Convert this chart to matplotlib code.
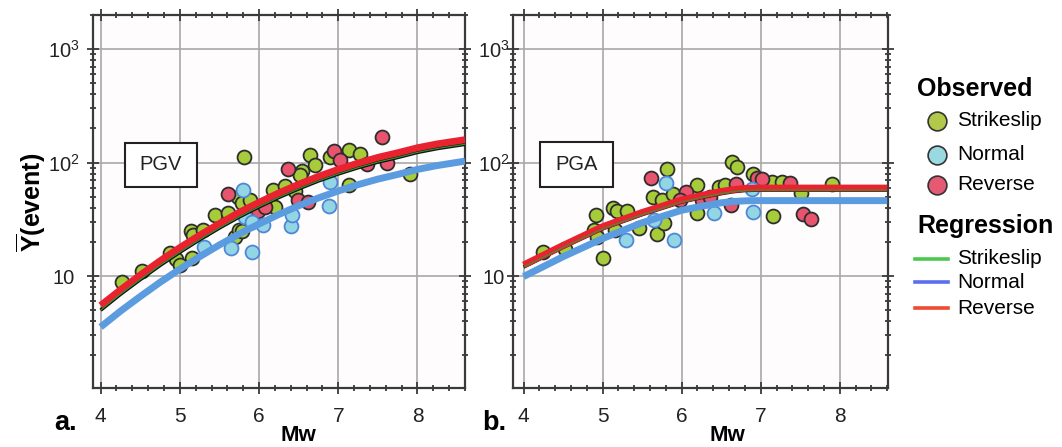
import matplotlib
matplotlib.use("Agg")
import matplotlib.pyplot as plt
from matplotlib.lines import Line2D
from matplotlib.patches import Rectangle
from matplotlib.ticker import FixedLocator, FixedFormatter, LogLocator, MultipleLocator, NullFormatter

plt.rcParams['font.family'] = ['Liberation Sans', 'DejaVu Sans']
plt.rcParams['mathtext.fontset'] = 'custom'
plt.rcParams['mathtext.rm'] = 'Liberation Sans'
plt.rcParams['mathtext.bf'] = 'Liberation Sans:bold'

# ---------------- data ----------------
# PGV observed
pgv_ss_m = [4.27, 4.52, 4.88, 4.95, 5.00, 5.14, 5.17, 5.15, 5.29, 5.44, 5.61, 5.70, 5.75, 5.78, 5.81, 5.74,
            5.79, 5.88, 5.91, 6.18, 6.20, 6.33, 6.45, 6.54, 6.52, 6.64, 6.71, 6.90, 7.14, 7.27, 7.14, 7.91]
pgv_ss_y = [8.9, 11.1, 15.8, 14.0, 12.5, 24.9, 23.0, 14.3, 25.7, 34.4, 35.6, 22.0, 25.7, 25.0, 111, 50,
            43.7, 46.5, 31, 57.6, 40.8, 62, 56, 85, 77, 117, 95, 112, 128, 120, 63, 80]
pgv_no_m = [5.30, 5.65, 5.91, 5.80, 5.82, 5.91, 6.05, 6.40, 6.41, 6.90, 6.88]
pgv_no_y = [18.1, 17.5, 16.3, 57, 33.4, 30, 28, 27.6, 34.5, 67.6, 41.6]
pgv_rv_m = [5.61, 5.99, 6.07, 6.37, 6.49, 6.62, 6.94, 7.02, 7.36, 7.55, 7.62]
pgv_rv_y = [53, 37.5, 41, 87, 47, 45, 126, 106, 98, 168, 100]

# PGV regression
pgv_fit_m = [4.0, 4.25, 4.5, 4.75, 5.0, 5.25, 5.5, 5.75, 6.0, 6.25, 6.5, 6.75, 7.0, 7.25, 7.5, 7.75,
             8.0, 8.25, 8.6]
pgv_fit_ss = [5.0, 6.9, 9.3, 12.4, 16.2, 20.9, 26.5, 33.2, 40.7, 49.3, 58.7, 68.9, 79.4, 90.2, 101, 111,
              123, 133, 145]
pgv_fit_no = [3.55, 4.9, 6.6, 8.8, 11.5, 14.8, 18.8, 23.5, 28.8, 34.9, 41.6, 48.8, 56.2, 63.9, 71.5, 78.6,
              87.1, 94.2, 103]
pgv_fit_rv = [5.5, 7.55, 10.2, 13.6, 17.8, 22.9, 29.0, 36.4, 44.6, 54.0, 64.3, 75.5, 87.0, 98.9, 111, 122,
              135, 146, 159]

# PGA observed
pga_ss_m = [4.25, 4.53, 4.92, 4.89, 4.93, 5.01, 5.13, 5.18, 5.31, 5.16, 5.46, 5.64, 5.75, 5.81, 5.69, 5.78,
            5.89, 6.19, 6.19, 6.47, 6.55, 6.64, 6.70, 6.90, 7.14, 7.16, 7.27, 7.51, 7.90]
pga_ss_y = [16.4, 17.2, 34.7, 25.4, 22.2, 14.3, 40, 37.5, 37.5, 25.4, 26.3, 50, 46.6, 88.5, 23.7, 29.5,
            53, 63, 35.6, 61, 63, 101, 91, 80, 67.6, 33.8, 67.6, 54, 64.5]
pga_no_m = [5.30, 5.80, 5.65, 5.90, 6.41, 6.90, 6.89]
pga_no_y = [20.7, 66, 31, 20.7, 35.6, 36.7, 59]
pga_rv_m = [5.61, 6.06, 5.98, 6.26, 6.36, 6.62, 6.69, 6.95, 7.02, 7.37, 7.54, 7.63]
pga_rv_y = [72.6, 55, 47, 47, 50, 42, 65, 72.6, 71, 66, 35.5, 32]

# PGA regression
pga_fit_m = [4.0, 4.5, 5.0, 5.5, 6.0, 6.25, 6.5, 6.65, 6.8, 6.95, 7.2, 8.6]
pga_fit_ss = [12.0, 17.9, 26.1, 34.8, 44.9, 49.2, 53.3, 55.4, 56.8, 57.2, 57.2, 57.2]
pga_fit_no = [9.9, 14.8, 21.4, 29.5, 38.0, 41.2, 44.2, 45.4, 46.0, 46.2, 46.2, 46.2]
pga_fit_rv = [12.5, 18.6, 27.2, 36.3, 46.8, 51.3, 55.6, 57.8, 59.2, 59.6, 59.6, 59.6]

ytick_vals = [10, 100, 1000]
ytick_labels = ['10', r'$\mathregular{10^{2}}$', r'$\mathregular{10^{3}}$']
xtick_vals = [4, 5, 6, 7, 8]

# ---------------- style ----------------
C_SS = '#a6cc3a'
C_NO = '#92d6e4'
C_RV = '#e8536d'
L_NO = '#5b9be0'
L_RV = '#e8232f'
L_SS = '#2f9a2f'

W, H = 1062, 447
fig = plt.figure(figsize=(W / 100, H / 100), dpi=100)

def px_axes(x0, x1, y0, y1):
    return fig.add_axes([x0 / W, 1 - y1 / H, (x1 - x0) / W, (y1 - y0) / H])

axL = px_axes(92.7, 465, 15, 388)
axR = px_axes(513.3, 888, 15, 388)


def setup(ax, xlim, ypad):
    ax.set_facecolor('#fefcfc')
    ax.set_yscale('log')
    ax.set_xlim(*xlim)
    ax.set_ylim(1.03, 2000)
    ax.xaxis.set_major_locator(FixedLocator(xtick_vals))
    ax.xaxis.set_minor_locator(MultipleLocator(0.2))
    ax.yaxis.set_major_locator(FixedLocator(ytick_vals))
    ax.yaxis.set_major_formatter(FixedFormatter(ytick_labels))
    ax.yaxis.set_minor_locator(LogLocator(base=10, subs=range(2, 10)))
    ax.yaxis.set_minor_formatter(NullFormatter())
    ax.grid(True, which='major', color='#a8a8a8', lw=1.2, zorder=0)
    ax.set_axisbelow(True)
    for s in ax.spines.values():
        s.set_color('#3a3a3a')
        s.set_linewidth(1.6)
    ax.tick_params(which='both', direction='inout', top=True, right=True, color='#3a3a3a', width=1.3)
    ax.tick_params(which='major', length=8)
    ax.tick_params(which='minor', length=5)
    ax.tick_params(axis='x', labelsize=15, pad=10, labelcolor='#222222')
    ax.tick_params(axis='y', labelsize=14.5, pad=ypad, labelcolor='#222222')
    for lab in ax.get_yticklabels():
        lab.set_horizontalalignment('center')


def draw(ax, ss, no, rv, fit_m, fss, fno, frv):
    kw = dict(s=100, linewidths=1.3, zorder=3)
    ax.scatter(ss[0], ss[1], c=C_SS, edgecolors='#2e2e2e', **kw)
    ax.scatter(rv[0], rv[1], c=C_RV, edgecolors='#2e2e2e', **kw)
    ax.scatter(no[0], no[1], c=C_NO, edgecolors='#4f86d8', **kw)
    ax.plot(fit_m, fno, color=L_NO, lw=5.0, solid_capstyle='butt', solid_joinstyle='round', zorder=4)
    ax.plot(fit_m, fss, color='#111111', lw=2.6, solid_capstyle='butt', solid_joinstyle='round', zorder=5)
    ax.plot(fit_m, frv, color=L_RV, lw=5.0, solid_capstyle='butt', solid_joinstyle='round', zorder=6)
    ax.plot(fit_m, fss, color=L_SS, lw=0.8, solid_capstyle='butt', solid_joinstyle='round', zorder=7)


setup(axL, (3.9, 8.6), 17)
setup(axR, (3.87, 8.61), 10)

draw(axL, (pgv_ss_m, pgv_ss_y), (pgv_no_m, pgv_no_y), (pgv_rv_m, pgv_rv_y),
     pgv_fit_m, pgv_fit_ss, pgv_fit_no, pgv_fit_rv)
draw(axR, (pga_ss_m, pga_ss_y), (pga_no_m, pga_no_y), (pga_rv_m, pga_rv_y),
     pga_fit_m, pga_fit_ss, pga_fit_no, pga_fit_rv)

# boxed panel labels
def box_label(ax, text, cx, cy, w, h):
    ax.add_patch(Rectangle((cx - w / 2, cy - h / 2), w, h, transform=ax.transAxes,
                           facecolor='white', edgecolor='#222222', lw=1.5, zorder=8))
    ax.text(cx, cy, text, transform=ax.transAxes, ha='center', va='center',
            fontsize=14.5, color='#222222', zorder=9)

box_label(axL, 'PGV', (161 - 92.7) / 372.3, (388 - 165) / 373, 72 / 372.3, 44 / 373)
box_label(axR, 'PGA', (576.7 - 513.3) / 374.7, (388 - 164.5) / 373, 73 / 374.7, 45 / 373)

# figure texts
def ftext(x, y, s, **kw):
    fig.text(x / W, 1 - y / H, s, **kw)

ftext(66, 423, 'a.', fontsize=19.5, fontweight='bold', ha='center', va='center')
ftext(494, 423, 'b.', fontsize=19.5, fontweight='bold', ha='center', va='center')
ftext(298, 446, 'Mw', fontsize=16, fontweight='bold', ha='center', va='bottom')
ftext(727, 446, 'Mw', fontsize=16, fontweight='bold', ha='center', va='bottom')
ftext(31, 202, r'$\mathbf{\overline{Y}}$(event)', fontsize=18, fontweight='bold',
      rotation=90, ha='center', va='center')

# legend
ftext(917, 89, 'Observed', fontsize=18, fontweight='bold', ha='left', va='center')
for yy, fc, ec, lab in [(121, '#b0c94a', '#333333', 'Strikeslip'),
                        (155, '#9ad8e2', '#333333', 'Normal'),
                        (185, '#e35a72', '#333333', 'Reverse')]:
    fig.add_artist(Line2D([937 / W], [1 - yy / H], marker='o', markersize=13.5,
                          markerfacecolor=fc, markeredgecolor=ec, markeredgewidth=1.2, linestyle='none'))
    ftext(957, yy, lab, fontsize=15, ha='left', va='center')
ftext(917, 226, 'Regression', fontsize=18, fontweight='bold', ha='left', va='center')
for yy, col, lab in [(259, '#4cc94c', 'Strikeslip'),
                     (282, '#5a6ef0', 'Normal'),
                     (308, '#f04a30', 'Reverse')]:
    fig.add_artist(Line2D([915 / W, 948 / W], [1 - yy / H, 1 - yy / H], color=col, lw=2.6))
    ftext(957, yy, lab, fontsize=15, ha='left', va='center')

fig.savefig('out.png', dpi=100)
